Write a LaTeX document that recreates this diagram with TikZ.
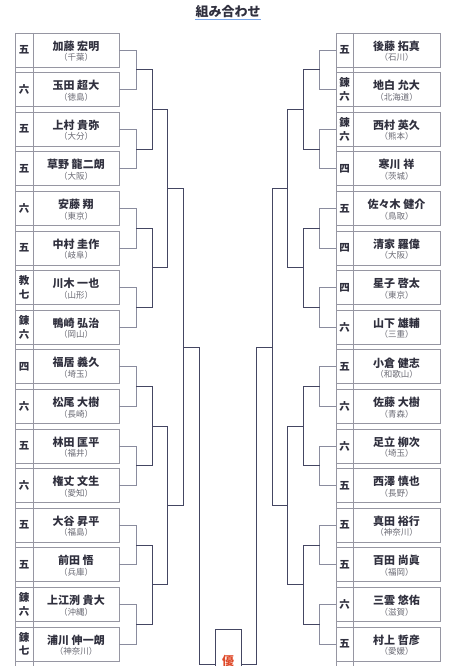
\documentclass[tikz,border=0pt]{standalone}
\usepackage{fontspec}
\usepackage{tikz}
\usetikzlibrary{positioning,calc}
\newfontfamily\jp{Noto Sans CJK JP}
\definecolor{boxgray}{RGB}{150,150,162}
\definecolor{lineA}{RGB}{138,140,158}
\definecolor{lineB}{RGB}{68,70,98}
\definecolor{namecol}{RGB}{48,48,62}
\definecolor{prefcol}{RGB}{105,105,115}
\definecolor{winred}{RGB}{222,72,40}
\definecolor{titleblue}{RGB}{120,165,232}
\tikzset{
    namebox/.style={rectangle, draw=boxgray, line width=0.8pt, minimum width=86pt, minimum height=34pt, inner sep=0pt},
    gradebox/.style={rectangle, draw=boxgray, line width=0.8pt, minimum width=18pt, minimum height=34pt, inner sep=0pt,
        align=center, text=namecol, font=\jp\bfseries\fontsize{10.5}{13.5}\selectfont},
    nametext/.style={inner sep=0pt, text=namecol, font=\jp\bfseries\fontsize{11}{13}\selectfont},
    preftext/.style={inner sep=0pt, text=prefcol, font=\jp\fontsize{8.5}{10}\selectfont},
    colline/.style={draw=boxgray, line width=0.8pt},
    lvA/.style={draw=lineA, line width=0.8pt},
    lvB/.style={draw=lineB, line width=0.9pt},
    winbox/.style={rectangle, draw=lineB, line width=0.9pt, minimum width=26pt, minimum height=80pt, inner sep=0pt},
}

\begin{document}
\begin{tikzpicture}[x=1pt, y=-1pt]
    \useasboundingbox (0,0) rectangle (455,666);
    % title
    \node[inner xsep=0pt, inner ysep=1.5pt, text=namecol, font=\jp\bfseries\fontsize{13}{15}\selectfont] (title) at (228,12) {組み合わせ};
    \draw[titleblue, line width=1.2pt] (title.south west) -- (title.south east);

    % grade columns
    \draw[colline] (15,33) -- (15,680) (33,33) -- (33,680);
    \draw[colline] (336,33) -- (336,680) (353,33) -- (353,680);

    % left block
    \foreach \g/\n/\p [count=\i] in {五/加藤 宏明/千葉, 六/玉田 超大/徳島, 五/上村 貴弥/大分, 五/草野 龍二朗/大阪,
        六/安藤 翔/東京, 五/中村 圭作/岐阜, {教\\七}/川木 一也/山形, {錬\\六}/鴨崎 弘治/岡山,
        四/福居 義久/埼玉, 六/松尾 大樹/長崎, 五/林田 匡平/福井, 六/権丈 文生/愛知,
        五/大谷 昇平/福島, 五/前田 悟/兵庫, {錬\\六}/上江洌 貴大/沖縄, {錬\\七}/浦川 伸一朗/神奈川} {
        \pgfmathsetmacro\my{50+39.6*(\i-1)}
        \node[namebox] (Ln\i) at (76,\my) {};
        \node[gradebox] (Lg\i) at (24,\my) {\g};
        \node[nametext] (Lt\i) at ([yshift=4pt]Ln\i.center) {\n};
        \node[preftext] (Lp\i) at ([yshift=-7.5pt]Ln\i.center) {（\p）};
    }

    % right block
    \foreach \g/\n/\p [count=\i] in {五/後藤 拓真/石川, {錬\\六}/地白 允大/北海道, {錬\\六}/西村 英久/熊本, 四/寒川 祥/茨城,
        五/佐々木 健介/鳥取, 四/清家 羅偉/大阪, 四/星子 啓太/東京, 六/山下 雄輔/三重,
        五/小倉 健志/和歌山, 六/佐藤 大樹/青森, 六/足立 柳次/埼玉, 五/西澤 慎也/長野,
        五/真田 裕行/神奈川, 五/百田 尚眞/福岡, 六/三雲 悠佑/滋賀, 五/村上 哲彦/愛媛} {
        \pgfmathsetmacro\my{50+39.6*(\i-1)}
        \node[namebox, minimum width=87pt] (Rn\i) at (396.5,\my) {};
        \node[gradebox, minimum width=17pt] (Rg\i) at (344.5,\my) {\g};
        \node[nametext] (Rt\i) at ([yshift=4pt]Rn\i.center) {\n};
        \node[preftext] (Rp\i) at ([yshift=-7.5pt]Rn\i.center) {（\p）};
    }

    % first round
    \foreach \j in {1,...,8} {
        \pgfmathtruncatemacro\a{2*\j-1}
        \pgfmathtruncatemacro\b{2*\j}
        \draw[lvA] (Ln\a.east) -- ++(17,0) |- (Ln\b.east);
        \coordinate (LA\j) at ($(Ln\a.east)!.5!(Ln\b.east)+(17,0)$);
        \draw[lvA] (Rg\a.west) -- ++(-16,0) |- (Rg\b.west);
        \coordinate (RA\j) at ($(Rg\a.west)!.5!(Rg\b.west)+(-16,0)$);
    }
    % second round
    \foreach \j in {1,...,4} {
        \pgfmathtruncatemacro\a{2*\j-1}
        \pgfmathtruncatemacro\b{2*\j}
        \draw[lvB] (LA\a) -- ++(16,0) |- (LA\b);
        \coordinate (LB\j) at ($(LA\a)!.5!(LA\b)+(16,0)$);
        \draw[lvB] (RA\a) -- ++(-16,0) |- (RA\b);
        \coordinate (RB\j) at ($(RA\a)!.5!(RA\b)+(-16,0)$);
    }
    % third round
    \foreach \j in {1,2} {
        \pgfmathtruncatemacro\a{2*\j-1}
        \pgfmathtruncatemacro\b{2*\j}
        \draw[lvB] (LB\a) -- ++(15,0) |- (LB\b);
        \coordinate (LC\j) at ($(LB\a)!.5!(LB\b)+(15,0)$);
        \draw[lvB] (RB\a) -- ++(-16,0) |- (RB\b);
        \coordinate (RC\j) at ($(RB\a)!.5!(RB\b)+(-16,0)$);
    }
    % semi final
    \draw[lvB] (LC1) -- ++(16,0) |- (LC2);
    \coordinate (LD) at ($(LC1)!.5!(LC2)+(16,0)$);
    \draw[lvB] (RC1) -- ++(-15.5,0) |- (RC2);
    \coordinate (RD) at ($(RC1)!.5!(RC2)+(-15.5,0)$);

    % final
    \node[winbox] (win) at (228,669) {};
    \node[text=winred, inner sep=0pt, font=\jp\bfseries\fontsize{12}{14}\selectfont] (wintxt) at (228,661) {優};
    \draw[lvB] (LD) -- ++(16,0) |- ([yshift=-36pt]win.north west);
    \draw[lvB] (RD) -- ++(-16,0) |- ([yshift=-36pt]win.north east);
\end{tikzpicture}
\end{document}
